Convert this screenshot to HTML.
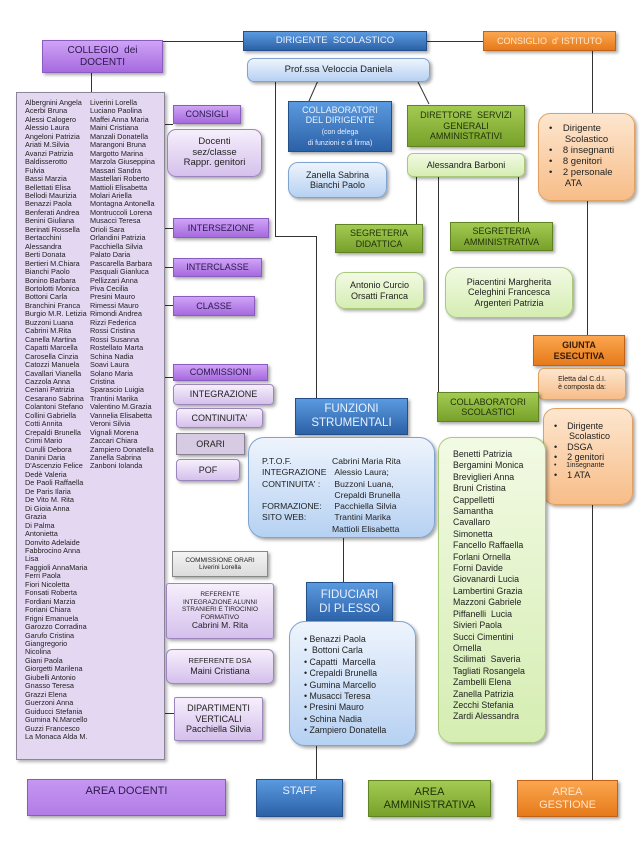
<!DOCTYPE html>
<html><head><meta charset="utf-8"><style>
*{margin:0;padding:0;box-sizing:border-box}
body{width:644px;height:850px;background:#fff;position:relative;overflow:hidden;font-family:"Liberation Sans",sans-serif;color:#222}
.b{position:absolute;display:flex;align-items:center;justify-content:center;text-align:center;box-shadow:2px 2px 3px rgba(0,0,0,.35);line-height:1.15}
.pu{background:linear-gradient(#cfa3f7,#a66ade);border:1px solid #8a5cc0;color:#2a1a4a}
.bl{background:linear-gradient(#5a9ae0,#2c61a6);border:1px solid #234f8a;color:#e8f0ff}
.gr{background:linear-gradient(#a3cb52,#78a12b);border:1px solid #5f8222;color:#1f3008}
.or{background:linear-gradient(#fba64f,#e67a1a);border:1px solid #c0621a;color:#ffe6cc}
.lb{background:linear-gradient(#eef4fd,#b6d1f2);border:1px solid #7fa3d0;border-radius:10px}
.lg{background:linear-gradient(#f2fae4,#d5edb2);border:1px solid #a9c97a;border-radius:10px}
.lv{background:linear-gradient(#f6effc,#d5c0ec);border:1px solid #9c86bb;border-radius:9px}
.lo{background:linear-gradient(#fde6cf,#f7bd88);border:1px solid #e0a060;border-radius:12px}
.ln{position:absolute;background:#333}
.col{position:absolute;font-size:7.3px;line-height:8.45px;white-space:nowrap;color:#222}
ul{list-style:none}
</style></head><body>

<div class="ln" style="left:163px;top:41px;width:80px;height:1px"></div>
<div class="ln" style="left:427px;top:41px;width:56px;height:1px"></div>
<div class="ln" style="left:91px;top:73px;width:1px;height:19px"></div>
<div class="ln" style="left:165px;top:124px;width:8px;height:1px"></div>
<div class="ln" style="left:165px;top:228px;width:8px;height:1px"></div>
<div class="ln" style="left:165px;top:267px;width:8px;height:1px"></div>
<div class="ln" style="left:165px;top:305px;width:8px;height:1px"></div>
<div class="ln" style="left:165px;top:377px;width:8px;height:1px"></div>
<div class="ln" style="left:165px;top:713px;width:9px;height:1px"></div>
<div class="ln" style="left:275px;top:75px;width:1px;height:161px"></div>
<div class="ln" style="left:275px;top:236px;width:41px;height:1px"></div>
<div class="ln" style="left:316px;top:236px;width:1px;height:162px"></div>
<svg style="position:absolute;left:0;top:0" width="644" height="850"><line x1="320" y1="76" x2="309" y2="101" stroke="#333"/><line x1="418" y1="82" x2="429" y2="104" stroke="#333"/></svg>
<div class="ln" style="left:416px;top:177px;width:1px;height:47px"></div>
<div class="ln" style="left:518px;top:177px;width:1px;height:45px"></div>
<div class="ln" style="left:438px;top:177px;width:1px;height:215px"></div>
<div class="ln" style="left:592px;top:51px;width:1px;height:62px"></div>
<div class="ln" style="left:587px;top:201px;width:1px;height:134px"></div>
<div class="ln" style="left:592px;top:505px;width:1px;height:275px"></div>
<div class="ln" style="left:343px;top:538px;width:1px;height:44px"></div>
<div class="ln" style="left:316px;top:746px;width:1px;height:33px"></div>

<div class="b pu" style="left:42px;top:40px;width:121px;height:33px;font-size:10px">COLLEGIO&nbsp; dei<br>DOCENTI</div>
<div class="b bl" style="left:243px;top:31px;width:184px;height:20px;font-size:9.5px">DIRIGENTE&nbsp; SCOLASTICO</div>
<div class="b or" style="left:483px;top:31px;width:133px;height:20px;font-size:9px">CONSIGLIO&nbsp; d'&nbsp;ISTITUTO</div>
<div class="b lb" style="left:247px;top:58px;width:183px;height:24px;font-size:9.5px;border-radius:7px">Prof.ssa Veloccia Daniela</div>

<div style="position:absolute;left:16px;top:92px;width:149px;height:668px;background:#e3d7f1;border:1px solid #8b8595;box-shadow:2px 2px 3px rgba(0,0,0,.3)"></div>
<div class="col" style="left:25px;top:99px">Albergnini Angela<br>Acerbi Bruna<br>Alessi Calogero<br>Alessio Laura<br>Angeloni Patrizia<br>Ariati M.Silvia<br>Avanzi Patrizia<br>Baldisserotto<br>Fulvia<br>Bassi Marzia<br>Bellettati Elisa<br>Bellodi Maurizia<br>Benazzi Paola<br>Benferati Andrea<br>Benini Giuliana<br>Berinati Rossella<br>Bertacchini<br>Alessandra<br>Berti Donata<br>Bertieri M.Chiara<br>Bianchi Paolo<br>Bonino Barbara<br>Bortolotti Monica<br>Bottoni Carla<br>Branchini Franca<br>Burgio M.R. Letizia<br>Buzzoni Luana<br>Cabrini M.Rita<br>Canella Martina<br>Capatti Marcella<br>Carosella Cinzia<br>Catozzi Manuela<br>Cavallari Vianella<br>Cazzola Anna<br>Ceriani Patrizia<br>Cesarano Sabrina<br>Colantoni Stefano<br>Collini Gabriella<br>Cotti Annita<br>Crepaldi Brunella<br>Crimi Mario<br>Curulli Debora<br>Danini Daria<br>D'Ascenzio Felice<br>Dedè Valeria<br>De Paoli Raffaella<br>De Paris Ilaria<br>De Vito M. Rita<br>Di Gioia Anna<br>Grazia<br>Di Palma<br>Antonietta<br>Donvito Adelaide<br>Fabbrocino Anna<br>Lisa<br>Faggioli AnnaMaria<br>Ferri Paola<br>Fiori Nicoletta<br>Fonsati Roberta<br>Fordiani Marzia<br>Foriani Chiara<br>Frigni Emanuela<br>Garozzo Corradina<br>Garufo Cristina<br>Giangregorio<br>Nicolina<br>Giani Paola<br>Giorgetti Marilena<br>Giubelli Antonio<br>Gnasso Teresa<br>Grazzi Elena<br>Guerzoni Anna<br>Guiducci Stefania<br>Gumina N.Marcello<br>Guzzi Francesco<br>La Monaca Alda M.</div>
<div class="col" style="left:90px;top:99px">Liverini Lorella<br>Luciano Paolina<br>Maffei Anna Maria<br>Maini Cristiana<br>Manzali Donatella<br>Marangoni Bruna<br>Margotto Marina<br>Marzola Giuseppina<br>Massari Sandra<br>Mastellari Roberto<br>Mattioli Elisabetta<br>Molari Ariella<br>Montagna Antonella<br>Montruccoli Lorena<br>Musacci Teresa<br>Orioli Sara<br>Orlandini Patrizia<br>Pacchiella Silvia<br>Palato Daria<br>Pascarella Barbara<br>Pasquali Gianluca<br>Pellizzari Anna<br>Piva Cecilia<br>Presini Mauro<br>Rimessi Mauro<br>Rimondi Andrea<br>Rizzi Federica<br>Rossi Cristina<br>Rossi Susanna<br>Rostellato Marta<br>Schina Nadia<br>Soavi Laura<br>Solano Maria<br>Cristina<br>Sparascio Luigia<br>Trantini Marika<br>Valentino M.Grazia<br>Vannelia Elisabetta<br>Veroni Silvia<br>Vignali Morena<br>Zaccari Chiara<br>Zampiero Donatella<br>Zanella Sabrina<br>Zanboni Iolanda</div>

<div class="b pu" style="left:173px;top:105px;width:68px;height:19px;font-size:9px">CONSIGLI</div>
<div class="b lv" style="left:167px;top:129px;width:95px;height:48px;font-size:9.5px">Docenti<br>sez/classe<br>Rappr. genitori</div>
<div class="b pu" style="left:173px;top:218px;width:96px;height:20px;font-size:9px">INTERSEZIONE</div>
<div class="b pu" style="left:173px;top:258px;width:89px;height:19px;font-size:9px">INTERCLASSE</div>
<div class="b pu" style="left:173px;top:296px;width:82px;height:20px;font-size:9px">CLASSE</div>
<div class="b pu" style="left:173px;top:364px;width:95px;height:17px;font-size:9px">COMMISSIONI</div>
<div class="b lv" style="left:173px;top:384px;width:101px;height:21px;font-size:9px;border-radius:4px">INTEGRAZIONE</div>
<div class="b lv" style="left:176px;top:408px;width:87px;height:20px;font-size:9px;border-radius:4px">CONTINUITA'</div>
<div class="b" style="left:176px;top:433px;width:69px;height:22px;font-size:9px;background:#d7cbe3;border:1px solid #8a8094">ORARI</div>
<div class="b lv" style="left:176px;top:459px;width:64px;height:22px;font-size:9px;border-radius:4px">POF</div>
<div class="b" style="left:172px;top:551px;width:96px;height:26px;font-size:6.5px;background:linear-gradient(#f4f4f4,#dcdcdc);border:1px solid #888"><div>COMMISSIONE ORARI<br>Liverini Lorella</div></div>
<div class="b lv" style="left:166px;top:583px;width:108px;height:56px;font-size:6.5px;border-radius:3px"><div>REFERENTE<br>INTEGRAZIONE ALUNNI<br>STRANIERI E TIROCINIO<br>FORMATIVO<br><span style="font-size:8.5px">Cabrini M. Rita</span></div></div>
<div class="b lv" style="left:166px;top:649px;width:108px;height:35px;font-size:7.5px;border-radius:6px"><div>REFERENTE DSA<br><span style="font-size:9px">Maini Cristiana</span></div></div>
<div class="b lv" style="left:174px;top:697px;width:89px;height:44px;font-size:9px;border-radius:2px"><div>DIPARTIMENTI<br>VERTICALI<br>Pacchiella Silvia</div></div>

<div class="b bl" style="left:288px;top:101px;width:104px;height:51px;font-size:9px"><div>COLLABORATORI<br>DEL DIRIGENTE<br><span style="font-size:7px">(con delega<br>di funzioni e di firma)</span></div></div>
<div class="b lb" style="left:288px;top:162px;width:99px;height:36px;font-size:9px">Zanella Sabrina<br>Bianchi Paolo</div>
<div class="b gr" style="left:407px;top:105px;width:118px;height:42px;font-size:9px">DIRETTORE&nbsp; SERVIZI<br>GENERALI<br>AMMINISTRATIVI</div>
<div class="b lg" style="left:407px;top:153px;width:118px;height:24px;font-size:9px;border-radius:6px">Alessandra Barboni</div>
<div class="b gr" style="left:335px;top:224px;width:88px;height:29px;font-size:9px">SEGRETERIA<br>DIDATTICA</div>
<div class="b gr" style="left:450px;top:222px;width:103px;height:29px;font-size:9px">SEGRETERIA<br>AMMINISTRATIVA</div>
<div class="b lg" style="left:335px;top:272px;width:89px;height:37px;font-size:9px">Antonio Curcio<br>Orsatti Franca</div>
<div class="b lg" style="left:445px;top:267px;width:128px;height:51px;font-size:9px;border-radius:12px">Piacentini Margherita<br>Celeghini Francesca<br>Argenteri Patrizia</div>

<div class="b lo" style="left:538px;top:113px;width:97px;height:88px;font-size:9.5px;justify-content:flex-start;padding-left:10px;text-align:left">
<ul><li>•&nbsp;&nbsp;&nbsp; Dirigente<br>&nbsp;&nbsp;&nbsp;&nbsp;&nbsp;&nbsp;Scolastico</li><li>•&nbsp;&nbsp;&nbsp; 8 insegnanti</li><li>•&nbsp;&nbsp;&nbsp; 8 genitori</li><li>•&nbsp;&nbsp;&nbsp; 2 personale<br>&nbsp;&nbsp;&nbsp;&nbsp;&nbsp;&nbsp;ATA</li></ul></div>
<div class="b or" style="left:533px;top:335px;width:92px;height:31px;font-size:9px;font-weight:bold;color:#3a1a00">GIUNTA<br>ESECUTIVA</div>
<div class="b lo" style="left:538px;top:368px;width:88px;height:32px;font-size:7px;border-radius:6px">Eletta dal C.d.I.<br>è composta da:</div>
<div class="b lo" style="left:543px;top:408px;width:90px;height:97px;font-size:9px;justify-content:flex-start;align-items:flex-start;padding:12px 0 0 10px;text-align:left">
<ul><li>•&nbsp;&nbsp;&nbsp; Dirigente<br>&nbsp;&nbsp;&nbsp;&nbsp;&nbsp;&nbsp;Scolastico</li><li>•&nbsp;&nbsp;&nbsp; DSGA</li><li>•&nbsp;&nbsp;&nbsp; 2 genitori</li><li style="font-size:7px">•&nbsp;&nbsp;&nbsp;&nbsp; 1insegnante</li><li>•&nbsp;&nbsp;&nbsp; 1 ATA</li></ul></div>

<div class="b bl" style="left:295px;top:398px;width:113px;height:37px;font-size:11.5px">FUNZIONI<br>STRUMENTALI</div>
<div class="b lb" style="left:248px;top:437px;width:187px;height:101px;border-radius:16px;font-size:8.6px;justify-content:flex-start;align-items:flex-start;padding:18px 0 0 13px;text-align:left">
<div style="position:relative;width:170px;line-height:11.3px">
<div>P.T.O.F.</div><div>INTEGRAZIONE</div><div>CONTINUITA' :</div><div>&nbsp;</div><div>FORMAZIONE:</div><div>SITO WEB:</div>
<div style="position:absolute;left:70px;top:0">Cabrini Maria Rita<br>&nbsp;Alessio Laura;<br>&nbsp;Buzzoni Luana,<br>&nbsp;Crepaldi Brunella<br>&nbsp;Pacchiella Silvia<br>&nbsp;Trantini Marika<br>Mattioli Elisabetta</div></div></div>

<div class="b bl" style="left:306px;top:582px;width:87px;height:41px;font-size:11.5px">FIDUCIARI<br>DI PLESSO</div>
<div class="b lb" style="left:289px;top:621px;width:127px;height:125px;border-radius:16px;font-size:8.8px;justify-content:flex-start;align-items:flex-start;padding:12px 0 0 14px;text-align:left;line-height:11.4px">
<ul><li>• Benazzi Paola</li><li>•&nbsp; Bottoni Carla</li><li>• Capatti&nbsp; Marcella</li><li>• Crepaldi Brunella</li><li>• Gumina Marcello</li><li>• Musacci Teresa</li><li>• Presini Mauro</li><li>• Schina Nadia</li><li>• Zampiero Donatella</li></ul></div>

<div class="b gr" style="left:437px;top:392px;width:102px;height:30px;font-size:9px">COLLABORATORI<br>SCOLASTICI</div>
<div class="b lg" style="left:438px;top:437px;width:108px;height:306px;border-radius:14px;font-size:8.8px;justify-content:flex-start;align-items:flex-start;padding:11px 0 0 14px;text-align:left;line-height:11.4px">
<div>Benetti Patrizia<br>Bergamini Monica<br>Breviglieri Anna<br>Bruni Cristina<br>Cappelletti<br>Samantha<br>Cavallaro<br>Simonetta<br>Fancello Raffaella<br>Forlani Ornella<br>Forni Davide<br>Giovanardi Lucia<br>Lambertini Grazia<br>Mazzoni Gabriele<br>Piffanelli&nbsp; Lucia<br>Sivieri Paola<br>Succi Cimentini<br>Ornella<br>Scilimati&nbsp; Saveria<br>Tagliati Rosangela<br>Zambelli Elena<br>Zanella Patrizia<br>Zecchi Stefania<br>Zardi Alessandra</div></div>

<div class="b pu" style="left:27px;top:779px;width:199px;height:37px;font-size:11px;align-items:flex-start;padding-top:5px;background:linear-gradient(#c596f2,#b27de6)">AREA DOCENTI</div>
<div class="b bl" style="left:256px;top:779px;width:87px;height:38px;font-size:11px;align-items:flex-start;padding-top:5px">STAFF</div>
<div class="b gr" style="left:368px;top:780px;width:123px;height:37px;font-size:11px">AREA<br>AMMINISTRATIVA</div>
<div class="b or" style="left:517px;top:780px;width:101px;height:37px;font-size:11px">AREA<br>GESTIONE</div>
</body></html>
